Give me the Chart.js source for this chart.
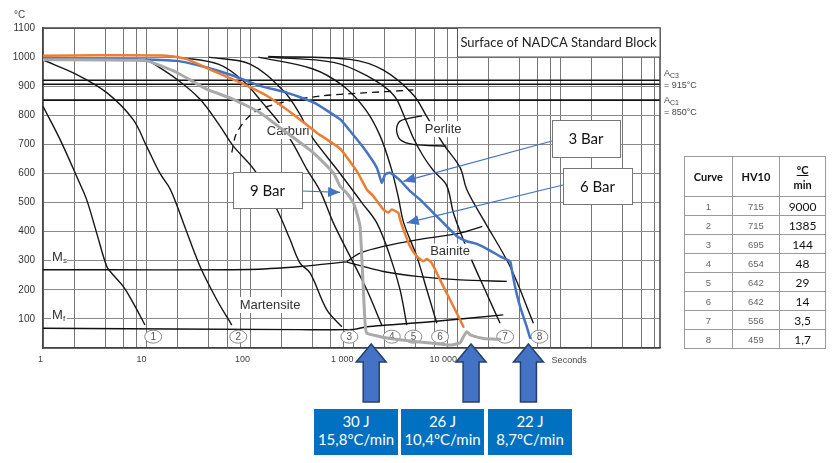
<!DOCTYPE html>
<html>
<head>
<meta charset="utf-8">
<script src="https://cdn.jsdelivr.net/npm/chart.js@4.4.0/dist/chart.umd.min.js"></script>
<style>
  html, body { margin: 0; padding: 0; background: #fff; }
  #wrap { position: relative; width: 840px; height: 463px; overflow: hidden; }
  #cct { position: absolute; left: 0; top: 0; }
  #hvTable { position: absolute; left: 684px; top: 156px; width: 142px; border-collapse: collapse; font-family: Lato, "Liberation Sans", sans-serif; }
  #hvTable th, #hvTable td { border: 1px solid #9a9a9a; text-align: center; padding: 0; }
  #hvTable th { height: 39px; font-size: 11px; font-weight: bold; color: #111; line-height: 15px; }
  #hvTable td { height: 18px; }
  #hvTable td.n { font-family: "Liberation Sans", Arial, sans-serif; font-size: 9.5px; color: #666; }
  #hvTable td.r { font-size: 12px; color: #111; }
  .frac { text-decoration: underline; }
  .jbox { position: absolute; top: 409px; height: 46px; background: #0070c0; color: #fff; font-family: Lato, sans-serif; font-size: 15px; line-height: 18px; text-align: center; box-sizing: border-box; padding-top: 3px; }
</style>
</head>
<body>
<div id="wrap">
  <canvas id="cct" width="840" height="463"></canvas>
  <table id="hvTable">
    <thead><tr><th>Curve</th><th>HV10</th><th><span class="frac">ºC</span><br>min</th></tr></thead>
    <tbody></tbody>
  </table>
  <div id="boxes"></div>
</div>
<script>
// Time axis (seconds, log) and temperature axis
const TIME_MIN = 1;
const TIME_MAX = 912000;
const timeGridValues = [1, 2, 4, 6, 8, 10, 20, 40, 60, 80, 100, 200, 400, 600, 800, 1000, 2000, 4000, 6000, 8000,
  10000, 20000, 40000, 60000, 80000, 100000, 200000, 400000, 600000, 800000];
const timeTickLabels = { 1: "1", 10: "10", 100: "100", 1000: "1 000", 10000: "10 000" };

// Black cooling curves 1..8  [time s, temperature °C]
const curve1 = [[1, 831], [1.46, 717], [2.18, 579], [2.64, 510], [3.3, 395], [4.13, 280], [4.61, 257], [5.98, 211], [7.45, 154], [9.66, 79]];
const curve2 = [[1, 990], [2.12, 940], [4.13, 878], [7.41, 786], [10, 694], [13.5, 600], [17, 545], [22.7, 430], [32.9, 280], [47.7, 166], [66.6, 79]];
const curve3 = [[10, 993], [19.6, 924], [32.9, 855], [51.3, 763], [69, 694], [110, 612], [182, 476], [244, 372], [304, 292], [380, 258], [552, 131], [770, 73]];
const curve4 = [[20, 1000], [50, 975], [86, 918], [134, 840], [195, 770], [262, 700], [353, 615], [475, 540], [638, 430], [925, 315], [1342, 200], [1870, 79]];
const curve5 = [[40, 1000], [100, 976], [210, 884], [304, 803], [380, 734], [741, 600], [1200, 500], [1676, 430], [2253, 315], [2813, 200], [3266, 79]];
const curve6 = [[120, 1000], [400, 960], [800, 900], [1300, 820], [1800, 730], [2300, 620], [2700, 520], [3050, 430], [4080, 315], [5100, 200], [6370, 85]];
const curve7 = [[150, 1000], [640, 982], [1340, 936], [2430, 870], [3140, 790], [3800, 720], [4700, 660], [5900, 610], [7900, 560], [9300, 460], [13360, 315], [19200, 189], [26000, 85]];
const curve8 = [[150, 1002], [925, 992], [1940, 955], [3785, 870], [5100, 795], [7400, 700], [10700, 620], [12400, 545], [17960, 441], [32500, 280], [54600, 85]];

// Transformation boundaries
const msLine = [[1, 269], [100, 270], [304, 280], [860, 296]];
const mfLine = [[1, 68], [300, 63], [1000, 64], [1340, 73], [5900, 91], [27900, 114]];
const bainiteUpper = [[860, 297], [1155, 326], [1940, 349], [4080, 372], [10700, 395], [17500, 418]];
const bainiteLower = [[860, 295], [1940, 263], [4080, 246], [10700, 234], [30200, 229]];
const carbideLine = [[66.6, 672], [74.4, 740], [108, 809], [210, 845], [475, 866], [1155, 876], [3785, 887]];
const perliteLine = [[4580, 798], [2810, 780], [2600, 752], [2810, 717], [3780, 700], [7900, 694]];
const ac3Temps = [920, 907];
const ac1Temp = 852;

// Measured curves (gas pressure quench)
const gray9Bar = [[1, 991], [3.55, 990], [10, 987], [19.6, 947], [38, 890], [69, 855], [125, 809], [226, 740], [410, 671], [638, 602],
  [741, 556], [860, 533], [995, 499], [1074, 464], [1155, 418], [1199, 315], [1244, 200], [1292, 85], [1342, 51], [1803, 39],
  [2813, 28], [5900, 16], [8550, 10], [10700, 18], [11500, 39], [12400, 56], [13360, 45], [17960, 33], [26000, 30]];
const orange6Bar = [[1, 1005], [3.55, 1006], [15.7, 1005], [24.5, 993], [44, 953], [80, 913], [145, 867], [262, 803], [441, 740],
  [741, 685], [1074, 608], [1342, 545], [1553, 522], [1940, 476], [2170, 466], [2340, 476], [2710, 464], [2813, 441], [3030, 407],
  [3515, 349], [4080, 315], [4720, 298], [5100, 306], [5700, 292], [6850, 234], [8550, 166], [10700, 97], [11500, 73]];
const blue3Bar = [[1, 995], [7.45, 993], [19.6, 987], [38, 964], [69, 936], [125, 901], [226, 878], [410, 844], [741, 786],
  [925, 746], [1244, 689], [1676, 620], [1874, 568], [2015, 597], [2253, 602], [2813, 576], [3515, 539], [4393, 510], [5900, 464],
  [7960, 418], [9930, 384], [12400, 367], [15490, 358], [20830, 335], [26000, 315], [32500, 298], [33750, 269], [36300, 211],
  [40600, 142], [47100, 73], [50700, 35]];

// Curve number markers at the bottom
const curveIds = ["1", "2", "3", "4", "5", "6", "7", "8"];
const curveIdTimes = [11.6, 77, 910, 2340, 3785, 6850, 29100, 62400];
const curveIdTemp = 39;

// Phase region labels
const phaseNames = ["Carburi", "Perlite", "Bainite", "Martensite"];
const phaseTimes = [233, 7330, 8550, 156];
const phaseTemps = [746, 752, 331, 148];

// Callouts: label and the point the arrow touches
const calloutNames = ["9 Bar", "3 Bar", "6 Bar"];
const calloutTipTimes = [741, 3030, 3266];
const calloutTipTemps = [535, 573, 430];

// Right-hand table
const curveNumbers = ["1", "2", "3", "4", "5", "6", "7", "8"];
const hardnessHV10 = ["715", "715", "695", "654", "642", "642", "556", "459"];
const coolingRates = ["9000", "1385", "144", "48", "29", "14", "3,5", "1,7"];

// Bottom result boxes and the times their arrows point to
const impactEnergy = ["30 J", "26 J", "22 J"];
const averageRates = ["15,8ºC/min", "10,4ºC/min", "8,7ºC/min"];
const resultTimes = [1480, 13650, 48900];

const BLUE = "#4472c4";
const toPoints = (pairs) => pairs.map(([t, T]) => ({ x: t, y: T }));

const blackCurve = (pairs) => ({
  data: toPoints(pairs), borderColor: "#161616", borderWidth: 1.4, tension: 0.35,
  pointRadius: 0, showLine: true, order: 5,
});
const boundary = (pairs, width, dash) => ({
  data: toPoints(pairs), borderColor: "#111", borderWidth: width, borderDash: dash || [], tension: 0.3,
  pointRadius: 0, showLine: true, order: 6,
});
const measuredCurve = (pairs, color, width) => ({
  data: toPoints(pairs), borderColor: color, borderWidth: width, tension: 0.15,
  pointRadius: 0, showLine: true, order: 0, measured: true, borderJoinStyle: "round", borderCapStyle: "round",
});

// fill the table
const tbody = document.querySelector("#hvTable tbody");
curveNumbers.forEach((c, i) => {
  const tr = document.createElement("tr");
  tr.innerHTML = `<td class="n">${c}</td><td class="n">${hardnessHV10[i]}</td><td class="r">${coolingRates[i]}</td>`;
  tbody.appendChild(tr);
});

// bottom blue boxes
const boxLefts = [314, 401, 488];
const boxWidths = [84, 83, 84];
impactEnergy.forEach((e, i) => {
  const d = document.createElement("div");
  d.className = "jbox";
  d.style.left = boxLefts[i] + "px";
  d.style.width = boxWidths[i] + "px";
  d.innerHTML = `${e}<br>${averageRates[i]}`;
  document.getElementById("boxes").appendChild(d);
});

// labels and number markers go under the coloured curves
const drawUnderlay = (chart) => {
  const { ctx, scales: { x, y } } = chart;
  ctx.save();
  ctx.textAlign = "center";
  ctx.textBaseline = "middle";
  ctx.font = '13px "Liberation Sans", Arial, sans-serif';
  phaseNames.forEach((name, i) => {
    const px = x.getPixelForValue(phaseTimes[i]);
    const py = y.getPixelForValue(phaseTemps[i]);
    const w = ctx.measureText(name).width;
    ctx.fillStyle = "#fff";
    ctx.fillRect(px - w / 2 - 2, py - 8, w + 4, 16);
    ctx.fillStyle = "#333";
    ctx.fillText(name, px, py);
  });

  ctx.font = '10px "Liberation Sans", Arial, sans-serif';
  curveIds.forEach((id, i) => {
    const px = x.getPixelForValue(curveIdTimes[i]);
    const py = y.getPixelForValue(curveIdTemp);
    ctx.beginPath();
    ctx.ellipse(px, py, 8.5, 6.5, 0, 0, Math.PI * 2);
    ctx.fillStyle = "#fff";
    ctx.fill();
    ctx.strokeStyle = "#888";
    ctx.lineWidth = 1;
    ctx.stroke();
    ctx.fillStyle = "#555";
    ctx.fillText(id, px, py + 0.5);
  });
  ctx.restore();
};

const drawArrowHead = (ctx, fx, fy, tx, ty, len, half) => {
  const ang = Math.atan2(ty - fy, tx - fx);
  ctx.beginPath();
  ctx.moveTo(tx, ty);
  ctx.lineTo(tx - len * Math.cos(ang) + half * Math.sin(ang), ty - len * Math.sin(ang) - half * Math.cos(ang));
  ctx.lineTo(tx - len * Math.cos(ang) - half * Math.sin(ang), ty - len * Math.sin(ang) + half * Math.cos(ang));
  ctx.closePath();
  ctx.fill();
};

const cctDecor = {
  id: "cctDecor",
  beforeDatasetsDraw(chart) {
    chart.$underlayDone = false;
  },
  beforeDatasetDraw(chart, args) {
    if (!chart.$underlayDone && chart.data.datasets[args.index].measured) {
      drawUnderlay(chart);
      chart.$underlayDone = true;
    }
  },
  afterDatasetsDraw(chart) {
    const { ctx, chartArea: area, scales: { x, y } } = chart;
    ctx.save();

    // top and right frame
    ctx.strokeStyle = "#444";
    ctx.lineWidth = 1.5;
    ctx.beginPath();
    ctx.moveTo(area.left, area.top);
    ctx.lineTo(area.right, area.top);
    ctx.lineTo(area.right, area.bottom);
    ctx.stroke();

    // Ms / Mf labels on the axis side
    const msLabels = [["s", 300], ["f", 100]];
    msLabels.forEach(([sub, T]) => {
      const py = y.getPixelForValue(T) - 5;
      ctx.fillStyle = "#fff";
      ctx.fillRect(area.left + 8, py - 8, 16, 15);
      ctx.fillStyle = "#333";
      ctx.textBaseline = "alphabetic";
      ctx.textAlign = "left";
      ctx.font = '13px "Liberation Sans", Arial, sans-serif';
      ctx.fillText("M", area.left + 9, py + 5);
      ctx.font = '8px "Liberation Sans", Arial, sans-serif';
      ctx.fillText(sub, area.left + 20, py + 7);
    });

    // callout boxes with thin arrows
    const boxes = [[233, 172, 69, 36, 302, 191], [552, 120, 68, 37, 552, 141], [563, 168, 69, 36, 563, 185]];
    boxes.forEach(([bx, by, bw, bh, sx, sy], i) => {
      const tx = x.getPixelForValue(calloutTipTimes[i]);
      const ty = y.getPixelForValue(calloutTipTemps[i]);
      ctx.strokeStyle = BLUE;
      ctx.fillStyle = BLUE;
      ctx.lineWidth = 1.2;
      ctx.beginPath();
      ctx.moveTo(sx, sy);
      ctx.lineTo(tx, ty);
      ctx.stroke();
      drawArrowHead(ctx, sx, sy, tx, ty, 12, 5);
      ctx.fillStyle = "#fff";
      ctx.fillRect(bx, by, bw, bh);
      ctx.strokeStyle = "#777";
      ctx.lineWidth = 1;
      ctx.strokeRect(bx + 0.5, by + 0.5, bw, bh);
      ctx.fillStyle = "#111";
      ctx.font = "15px Lato, sans-serif";
      ctx.textAlign = "center";
      ctx.textBaseline = "middle";
      ctx.fillText(calloutNames[i], bx + bw / 2, by + bh / 2 + 1);
    });

    // title box in the top right corner
    ctx.fillStyle = "#fff";
    ctx.fillRect(457, area.top, area.right - 457, 29);
    ctx.strokeStyle = "#555";
    ctx.lineWidth = 1;
    ctx.strokeRect(457.5, area.top, area.right - 457.5, 29);
    ctx.fillStyle = "#222";
    ctx.font = "13px Lato, sans-serif";
    ctx.textAlign = "center";
    ctx.textBaseline = "middle";
    ctx.fillText("Surface of NADCA Standard Block", (457 + area.right) / 2, area.top + 15);

    // Ac labels right of the plot
    ctx.textAlign = "left";
    ctx.textBaseline = "alphabetic";
    ctx.fillStyle = "#444";
    const acRows = [["C3", "= 915°C", y.getPixelForValue(ac3Temps[0]) - 4], ["C1", "= 850°C", y.getPixelForValue(ac1Temp) + 3]];
    acRows.forEach(([sub, text, py]) => {
      ctx.font = '9px "Liberation Sans", Arial, sans-serif';
      ctx.fillText("A", area.right + 4, py);
      ctx.font = '7px "Liberation Sans", Arial, sans-serif';
      ctx.fillText(sub, area.right + 10, py + 2);
      ctx.font = '9px "Liberation Sans", Arial, sans-serif';
      ctx.fillText(text, area.right + 4, py + 12);
    });

    // axis captions
    ctx.font = '9px "Liberation Sans", Arial, sans-serif';
    ctx.fillStyle = "#444";
    ctx.fillText("Seconds", x.getPixelForValue(100000) - 9, area.bottom + 15);
    ctx.font = '10px "Liberation Sans", Arial, sans-serif';
    ctx.fillText("°C", 14, 18);

    // big upward arrows to the result boxes
    resultTimes.forEach((t) => {
      const cx = x.getPixelForValue(t);
      ctx.beginPath();
      ctx.moveTo(cx, area.bottom - 4);
      ctx.lineTo(cx + 15, area.bottom + 14);
      ctx.lineTo(cx + 8, area.bottom + 14);
      ctx.lineTo(cx + 8, area.bottom + 54);
      ctx.lineTo(cx - 8, area.bottom + 54);
      ctx.lineTo(cx - 8, area.bottom + 14);
      ctx.lineTo(cx - 15, area.bottom + 14);
      ctx.closePath();
      ctx.fillStyle = BLUE;
      ctx.fill();
      ctx.strokeStyle = "#24406e";
      ctx.lineWidth = 1.5;
      ctx.stroke();
    });
    ctx.restore();
  },
};

Chart.defaults.font.family = '"Liberation Sans", Arial, sans-serif';

const datasets = [
  measuredCurve(gray9Bar, "#a9a9a9", 3),
  measuredCurve(orange6Bar, "#ed7d31", 2.5),
  measuredCurve(blue3Bar, BLUE, 2.5),
  blackCurve(curve1), blackCurve(curve2), blackCurve(curve3), blackCurve(curve4),
  blackCurve(curve5), blackCurve(curve6), blackCurve(curve7), blackCurve(curve8),
  boundary(msLine, 1.4), boundary(mfLine, 1.4),
  boundary(bainiteUpper, 1.3), boundary(bainiteLower, 1.3),
  boundary(carbideLine, 1.3, [7, 5]), boundary(perliteLine, 1.3),
  boundary([[TIME_MIN, ac3Temps[0]], [TIME_MAX, ac3Temps[0]]], 1.5),
  boundary([[TIME_MIN, ac3Temps[1]], [TIME_MAX, ac3Temps[1]]], 1.5),
  boundary([[TIME_MIN, ac1Temp], [TIME_MAX, ac1Temp]], 1.6),
];

new Chart(document.getElementById("cct"), {
  type: "scatter",
  data: { datasets },
  options: {
    responsive: false,
    animation: false,
    layout: { padding: { top: 28, right: 180, left: 0, bottom: 0 } },
    plugins: { legend: { display: false }, tooltip: { enabled: false } },
    scales: {
      x: {
        type: "logarithmic",
        min: TIME_MIN,
        max: TIME_MAX,
        afterBuildTicks: (scale) => {
          scale.ticks = timeGridValues.map((v) => ({ value: v }));
        },
        afterFit: (scale) => {
          scale.height = 115;
        },
        ticks: {
          autoSkip: false,
          maxRotation: 0,
          align: "end",
          padding: 6,
          color: "#444",
          font: { size: 9 },
          callback: (v) => timeTickLabels[v] || "",
        },
        grid: { color: "#777", lineWidth: 1, drawTicks: false },
        border: { color: "#444", width: 1.5 },
      },
      y: {
        min: 0,
        max: 1100,
        afterFit: (scale) => {
          scale.width = 43;
        },
        ticks: {
          stepSize: 100,
          padding: 8,
          color: "#333",
          font: { size: 10 },
          callback: (v) => (v === 0 ? "" : v),
        },
        grid: { color: "#888", lineWidth: 1, drawTicks: false },
        border: { color: "#444", width: 1.5 },
      },
    },
  },
  plugins: [cctDecor],
});
</script>
</body>
</html>
